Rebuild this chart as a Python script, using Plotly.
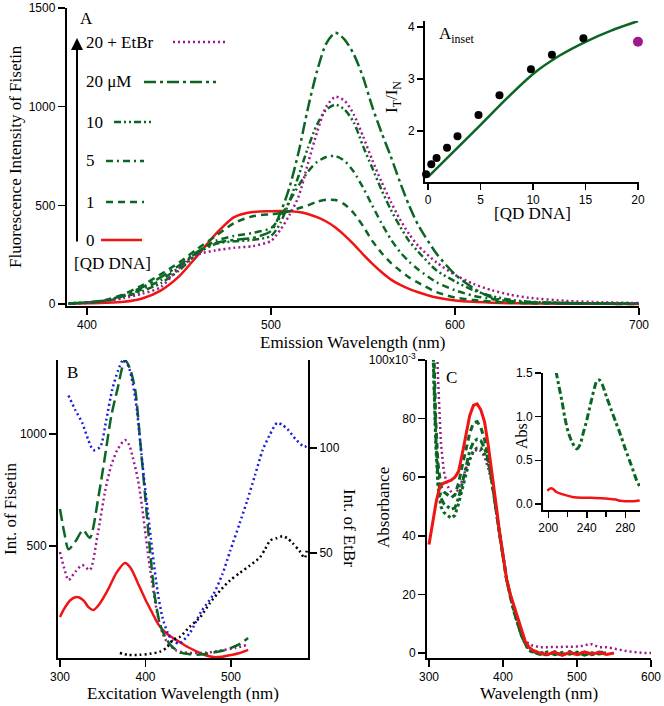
import plotly.graph_objects as go

W, H = 664, 706
GREEN = "#0b6623"
RED = "#f01414"
PURPLE = "#a0198c"
BLUE = "#1c1ce0"
BLACK = "#000000"
SERIF = "Liberation Serif, Times New Roman, serif"
SANS = "Liberation Sans, Arial, sans-serif"

# ---------------- Panel A data: fluorescence emission of fisetin ----------------
wl_a = [390, 400, 410, 420, 430, 440, 450, 460, 470, 480, 490, 500, 505, 510, 515, 520, 525, 530,
        535, 540, 545, 550, 555, 560, 565, 570, 575, 580, 590, 600, 610, 620, 630, 640, 660, 680, 700]
fl_0 = [2, 4, 6, 11, 28, 68, 140, 245, 355, 440, 466, 470, 471, 470, 466, 456, 440, 418,
        388, 348, 302, 252, 205, 162, 125, 98, 77, 60, 33, 18, 11, 7, 4, 3, 2, 1, 0]
fl_1 = [3, 8, 20, 50, 95, 150, 210, 280, 345, 410, 445, 455, 460, 470, 485, 500, 518, 528,
        527, 505, 460, 395, 320, 260, 210, 170, 135, 108, 60, 33, 20, 12, 7, 4, 2, 1, 0]
fl_5 = [3, 8, 17, 40, 75, 120, 185, 265, 320, 345, 360, 385, 440, 520, 600, 670, 720, 745,
        750, 725, 670, 590, 500, 410, 330, 265, 215, 175, 110, 70, 42, 25, 14, 8, 4, 2, 1]
fl_10 = [3, 7, 15, 35, 65, 105, 170, 255, 305, 318, 325, 345, 410, 520, 650, 790, 910, 985,
         1010, 985, 920, 800, 690, 580, 480, 395, 320, 265, 170, 115, 70, 40, 22, 12, 6, 3, 2]
fl_20 = [3, 8, 18, 45, 85, 135, 195, 265, 310, 325, 335, 370, 460, 590, 770, 990, 1180, 1320,
         1375, 1340, 1265, 1150, 1000, 870, 750, 620, 500, 400, 255, 150, 80, 32, 15, 9, 5, 3, 2]
fl_20_etbr = [2, 6, 14, 30, 52, 85, 180, 250, 272, 285, 293, 320, 375, 450, 545, 710, 870, 1000,
              1050, 1030, 960, 850, 730, 620, 520, 430, 355, 295, 210, 148, 102, 70, 47, 32, 16, 9, 5]

legend_labels = ["20 + EtBr", "20 μM", "10", "5", "1", "0"]

# Inset A: I_T / I_N vs [QD DNA]
qd_conc = [-0.2, 0.3, 0.8, 1.8, 2.8, 4.8, 6.8, 9.8, 11.8, 14.8, 19.8]
ratio = [1.17, 1.36, 1.48, 1.68, 1.90, 2.31, 2.69, 3.19, 3.47, 3.79, 4.19]
etbr_conc = [20.0]
etbr_ratio = [3.72]
fit_conc = [0, 2.5, 5, 7.5, 10, 12.5, 15, 17.5, 20]
fit_ratio = [1.12, 1.62, 2.12, 2.63, 3.10, 3.45, 3.72, 3.94, 4.12]

# ---------------- Panel B data: excitation spectra ----------------
b_green_x = [300, 305, 310, 318, 327, 335, 345, 352, 360, 367, 376, 382, 388, 394, 400, 406, 411,
             417, 423, 430, 440, 450, 460, 470, 480, 490, 500, 510, 520]
b_green_y = [665, 560, 485, 520, 571, 536, 720, 884, 1080, 1196, 1330, 1290, 1196, 960, 705, 450, 272,
             150, 94, 55, 25, 18, 15, 18, 25, 32, 45, 62, 89]
b_purple_x = [300, 305, 310, 318, 326, 335, 344, 353, 360, 367, 376, 381, 385, 391, 396, 405, 414.6,
              420, 426, 435, 445, 460, 475, 490, 505, 520]
b_purple_y = [473, 400, 348, 385, 415, 393, 550, 750, 860, 928, 973, 950, 897, 800, 674, 406, 183,
              110, 67, 35, 25, 22, 25, 35, 45, 60]
b_red_x = [300, 305, 312, 320, 328, 333, 339, 346, 356, 366, 376, 383, 391, 400, 408, 415, 423, 430,
           440, 450, 464, 472, 480, 490, 500, 510, 520]
b_red_y = [183, 220, 258, 272, 255, 228, 214, 240, 304, 380, 424, 400, 335, 260, 201, 150, 115, 95,
           71, 48, 22, 10, 4, 6, 13, 22, 36]
b_blue_x = [310, 318, 326, 333, 339, 347, 354, 361, 368, 374, 380, 385, 390, 396, 402, 408, 414, 420,
            426, 432, 440, 452, 465, 479, 490, 499, 510, 519, 528, 537, 545, 554, 560, 566, 576, 586, 590]
b_blue_y = [125, 118, 112, 104, 99, 100.5, 113, 127.6, 137, 142, 139, 131, 118, 94, 72, 51, 32, 19,
            12, 8, 7, 12, 22, 30, 40, 51, 64, 75, 87, 99, 106, 112, 111, 109, 104, 100.5, 102]
b_black_x = [370, 380, 393, 405, 417, 425, 432, 440, 452, 464, 475, 487, 499, 510, 522, 534, 540, 546,
             553, 560, 566, 572, 580, 586, 589]
b_black_y = [2.4, 1.5, 1.5, 2, 3, 5, 8.6, 10, 15, 19.5, 26, 32, 37, 40.5, 44, 48, 52, 56,
             57, 58, 57, 54.7, 51, 47.6, 52]

# ---------------- Panel C data: absorbance (x10^-3) ----------------
c_red_x = [300, 305, 310, 315, 320, 325, 330, 335, 340, 345, 350, 355, 360, 365, 370, 375, 380, 385,
           390, 395, 400, 405, 410, 415, 420, 425, 430, 435, 440, 445, 450, 460, 470, 480, 490, 500,
           510, 520, 530, 540, 550]
c_red_y = [37, 45, 52, 57, 58, 58.5, 59, 60, 62, 68, 75, 81, 84.5, 85, 83, 79, 71, 62,
           52, 42, 33, 25, 20, 16, 12, 8, 4, 2, 1, 0.5, 0, -0.5, 0.3, -0.8, 0.2, -0.6,
           0.4, -0.3, 0.2, -0.5, 0]
c_green_x = [303, 306, 309, 312, 316, 320, 325, 330, 335, 340, 345, 350, 355, 360, 365, 370, 375, 380,
             385, 390, 395, 400, 405, 410, 415, 420, 425, 430, 435, 440, 450, 460, 470, 480, 490, 500,
             510, 520, 530, 540]
c_green_1 = [140, 105, 80, 65, 57, 55, 54, 53, 54, 58, 64, 70, 75, 78.5, 79, 77, 73, 67,
             59, 50, 41, 33, 25, 19, 14, 10, 6, 3.5, 1.5, 0.5, 0, -0.8, 0.5, -0.5, 0.3, -0.7,
             0.2, -0.5, 0.3, 0]
c_green_2 = [140, 100, 75, 60, 53, 51, 50, 49, 49.5, 53, 58, 64, 69, 72, 73, 72.5, 70, 66,
             59, 50, 41, 33, 25, 19, 14, 10, 6, 3.2, 1.2, 0.3, -0.5, 0.4, -0.6, 0.2, -0.4, 0.3,
             -0.7, 0.1, -0.3, 0]
c_green_3 = [140, 98, 72, 57, 50, 48, 47, 46, 47, 51, 56, 61, 66, 69, 70, 70, 68, 65,
             59, 50, 41, 33, 25, 19, 14, 10, 6, 3, 1, 0.2, 0.4, -0.6, 0.2, -0.8, 0.5, -0.3,
             0.2, -0.6, 0.1, 0]
c_purple_x = [308, 312, 316, 320, 325, 330, 335, 340, 345, 350, 355, 360, 365, 370, 375, 380, 385,
              390, 395, 400, 405, 410, 415, 420, 425, 430, 440, 450, 460, 470, 480, 490, 500, 510,
              515, 520, 525, 530, 540, 550, 560, 570, 580, 590, 600]
c_purple_y = [130, 95, 72, 62, 57, 55, 54, 56, 59, 63, 66, 68.5, 69.5, 69, 67, 63, 58,
              50, 41, 33, 25, 19.5, 15, 11, 7, 4, 2.5, 2, 2, 2, 2, 2, 2.2, 2.5,
              3, 3, 2.5, 2, 2, 1.5, 1, 0.5, 0.3, 0, 0]
c_yticks = [0, 20, 40, 60, 80, 100]
c_yticktext = ["0", "20", "40", "60", "80", "100x10<sup>-3</sup>"]

# Inset C: Abs 200-300 nm
ci_green_x = [208, 211, 214, 217, 220.5, 225, 229.5, 233, 236, 240, 244, 248, 250.5, 253, 256, 260.7,
              265, 270, 274.5, 280, 286, 291.8, 295]
ci_green_y = [1.52, 1.35, 1.19, 1.0, 0.83, 0.7, 0.63, 0.68, 0.8, 0.96, 1.15, 1.33, 1.41, 1.42, 1.37, 1.22,
              1.09, 0.94, 0.81, 0.63, 0.45, 0.27, 0.2]
ci_red_x = [199, 201, 203, 205, 208, 212, 218, 225, 235, 245, 255, 262, 270, 275, 280, 288, 295]
ci_red_y = [0.15, 0.17, 0.18, 0.17, 0.14, 0.12, 0.10, 0.08, 0.07, 0.07, 0.065, 0.06, 0.05, 0.035, 0.03,
            0.03, 0.04]

# ---------------- styles ----------------
DASH_20 = "12px,4px,3px,4px"
DASH_10 = "7px,3px,2px,3px,2px,3px"
DASH_5 = "7px,4px,2px,4px"
DASH_1 = "7px,5px"
DOT = "2px,3px"


def pxx(x):
    return x / W


def pyy(y):
    return 1 - y / H


fig = go.Figure()


def line(x, y, color, dash, xa, ya, width=2.5, shape="spline"):
    fig.add_trace(go.Scatter(x=x, y=y, mode="lines", xaxis=xa, yaxis=ya, showlegend=False,
                             line=dict(color=color, dash=dash, width=width, shape=shape, smoothing=0.7),
                             hoverinfo="skip"))


# Panel A
line(wl_a, fl_0, RED, "solid", "x", "y")
line(wl_a, fl_1, GREEN, DASH_1, "x", "y")
line(wl_a, fl_5, GREEN, DASH_5, "x", "y")
line(wl_a, fl_10, GREEN, DASH_10, "x", "y")
line(wl_a, fl_20_etbr, PURPLE, DOT, "x", "y")
line(wl_a, fl_20, GREEN, DASH_20, "x", "y")

# Inset A
line(fit_conc, fit_ratio, GREEN, "solid", "x2", "y2", width=2.5)
fig.add_trace(go.Scatter(x=qd_conc, y=ratio, mode="markers", xaxis="x2", yaxis="y2", showlegend=False,
                         marker=dict(color=BLACK, size=8), cliponaxis=False))
fig.add_trace(go.Scatter(x=etbr_conc, y=etbr_ratio, mode="markers", xaxis="x2", yaxis="y2", showlegend=False,
                         marker=dict(color=PURPLE, size=10), cliponaxis=False))

# Panel B
line(b_red_x, b_red_y, RED, "solid", "x3", "y3", width=2.5)
line(b_purple_x, b_purple_y, PURPLE, DOT, "x3", "y3", width=2.5)
line(b_green_x, b_green_y, GREEN, "12px,5px", "x3", "y3", width=2.5)
line(b_blue_x, b_blue_y, BLUE, DOT, "x3", "y4", width=2.5)
line(b_black_x, b_black_y, BLACK, DOT, "x3", "y4", width=2.5)

# Panel C
line(c_purple_x, c_purple_y, PURPLE, DOT, "x5", "y5", width=2.5, shape="linear")
line(c_green_x, c_green_3, GREEN, "3px,3px", "x5", "y5", width=3, shape="linear")
line(c_green_x, c_green_2, GREEN, "7px,3px,3px,3px", "x5", "y5", width=3, shape="linear")
line(c_green_x, c_green_1, GREEN, "6px,4px", "x5", "y5", width=3, shape="linear")
line(c_red_x, c_red_y, RED, "solid", "x5", "y5", width=3, shape="linear")

# Inset C
line(ci_green_x, ci_green_y, GREEN, "7px,3px,3px,3px", "x6", "y6", width=3)
line(ci_red_x, ci_red_y, RED, "solid", "x6", "y6", width=2.5)


def ax(**kw):
    d = dict(showline=True, linecolor="black", linewidth=2, ticks="outside", ticklen=7, tickwidth=1.5,
             tickcolor="black", showgrid=False, zeroline=False, fixedrange=True, automargin=False,
             tickfont=dict(family=SANS, size=12, color="black"))
    d.update(kw)
    return d


layout = dict(
    width=W, height=H, autosize=False, margin=dict(l=0, r=0, t=0, b=0, pad=0),
    paper_bgcolor="white", plot_bgcolor="rgba(0,0,0,0)", showlegend=False,
    xaxis=ax(domain=[pxx(66.8), pxx(639)], range=[389, 700], anchor="y", tickvals=[400, 500, 600, 700]),
    yaxis=ax(domain=[pyy(306), pyy(8)], range=[-10, 1500], anchor="x", tickvals=[0, 500, 1000, 1500]),
    xaxis2=ax(domain=[pxx(425), pxx(639)], range=[-0.3, 20.1], anchor="y2", tickvals=[0, 5, 10, 15, 20], ticklen=6),
    yaxis2=ax(domain=[pyy(182), pyy(21)], range=[1.02, 4.12], anchor="x2", tickvals=[2, 3, 4], ticklen=6),
    xaxis3=ax(domain=[pxx(58), pxx(308)], range=[297.7, 590], anchor="y3", tickvals=[300, 400, 500]),
    yaxis3=ax(domain=[pyy(658), pyy(360)], range=[0, 1330], anchor="x3", tickvals=[500, 1000]),
    yaxis4=ax(range=[0, 141.9], anchor="x3", overlaying="y3", side="right", tickvals=[50, 100]),
    xaxis5=ax(domain=[pxx(427), pxx(651)], range=[297.3, 600], anchor="y5", tickvals=[300, 400, 500, 600]),
    yaxis5=ax(domain=[pyy(658), pyy(360)], range=[-1.7, 100], anchor="x5", tickvals=c_yticks,
              ticktext=c_yticktext),
    xaxis6=ax(domain=[pxx(543), pxx(640)], range=[194.5, 295.3], anchor="y6", tickvals=[200, 240, 280],
              ticklen=6, minor=dict(tickvals=[220, 260], ticklen=5, tickwidth=1.5, tickcolor="black", ticks="outside")),
    yaxis6=ax(domain=[pyy(510), pyy(373)], range=[-0.07, 1.5], anchor="x6", tickvals=[0, 0.5, 1.0, 1.5],
              ticktext=["0.0", "0.5", "1.0", "1.5"], ticklen=6),
)


def txt(x, y, s, size=17, angle=0, xanchor="center", family=SERIF):
    return dict(x=pxx(x), y=pyy(y), xref="paper", yref="paper", text=s, showarrow=False,
                font=dict(family=family, size=size, color="black"), textangle=angle,
                xanchor=xanchor, yanchor="middle")


ann = [
    txt(78, 18, "A", xanchor="left"),
    txt(15, 157, "Fluorescence Intensity of Fisetin", angle=-90),
    txt(353, 342, "Emission Wavelength (nm)"),
    txt(437, 35, "A<sub>inset</sub>", xanchor="left"),
    txt(393, 97, "I<sub>T</sub>/I<sub>N</sub>", angle=-90),
    txt(532, 213, "[QD DNA]"),
    txt(65, 373, "B", xanchor="left"),
    txt(10, 509, "Int. of Fisetin", angle=-90),
    txt(183, 693, "Excitation Wavelength (nm)"),
    txt(350, 528, "Int. of EtBr", angle=90),
    txt(444, 377, "C", xanchor="left"),
    txt(383, 507, "Absorbance", angle=-90),
    txt(539, 693, "Wavelength (nm)"),
    txt(521, 436, "Abs", size=16, angle=-90),
    txt(72, 263, "[QD DNA]", xanchor="left"),
    dict(x=pxx(77), y=pyy(38), xref="paper", yref="paper", ax=0, ay=205, axref="pixel", ayref="pixel",
         text="", showarrow=True, arrowhead=2, arrowsize=1.2, arrowwidth=2, arrowcolor="black"),
]

legend_y = [42, 82, 122, 161, 202, 240]
legend_x0 = [173, 144, 114, 106, 106, 101]
legend_x1 = [225, 216, 153, 144, 144, 142]
legend_col = [PURPLE, GREEN, GREEN, GREEN, GREEN, RED]
legend_dash = [DOT, DASH_20, DASH_10, DASH_5, DASH_1, "solid"]
shapes = []
for lab, yy, x0, x1, c, d in zip(legend_labels, legend_y, legend_x0, legend_x1, legend_col, legend_dash):
    ann.append(txt(84, yy, lab, xanchor="left"))
    shapes.append(dict(type="line", xref="paper", yref="paper", x0=pxx(x0), x1=pxx(x1), y0=pyy(yy), y1=pyy(yy),
                       line=dict(color=c, width=2.5, dash=d)))

layout["annotations"] = ann
layout["shapes"] = shapes
fig.update_layout(**layout)
fig.write_html("out.html", config={"displayModeBar": False, "staticPlot": True},
               post_script="document.body.style.margin='0';document.body.style.overflow='hidden';")
